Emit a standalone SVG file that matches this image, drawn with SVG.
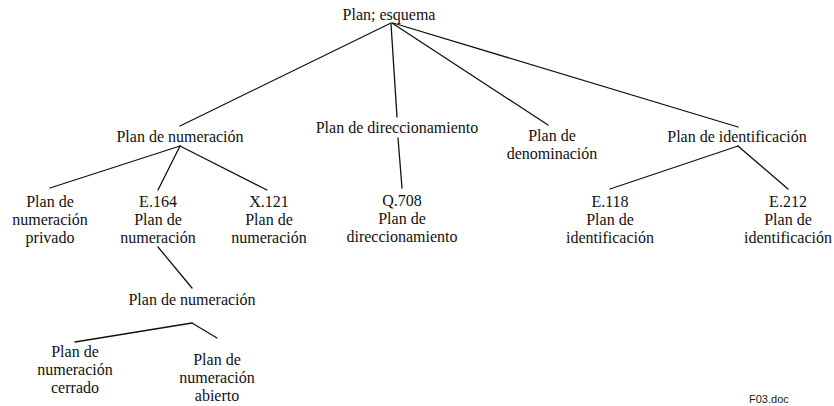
<svg xmlns="http://www.w3.org/2000/svg" width="834" height="406" viewBox="0 0 834 406">
<style>
text{font-family:"Liberation Serif","Times New Roman",serif;font-size:16px;fill:#111;text-anchor:middle}
.lines line{stroke:#111;stroke-width:1.3;fill:none;stroke-linecap:round}
.ref{font-family:"Liberation Sans",Arial,sans-serif;font-size:11px;fill:#222;text-anchor:start}
</style>
<rect width="834" height="406" fill="#fff"/>
<g class="lines" id="connectors">
<line x1="391" y1="23" x2="180" y2="126"/>
<line x1="391" y1="24" x2="397" y2="117"/>
<line x1="392" y1="23" x2="548" y2="125"/>
<line x1="393" y1="23" x2="738" y2="127"/>
<line x1="180" y1="146" x2="50" y2="188"/>
<line x1="180" y1="146" x2="158" y2="190"/>
<line x1="180" y1="146" x2="267" y2="190"/>
<line x1="398" y1="138" x2="402" y2="188"/>
<line x1="738" y1="146" x2="610" y2="189"/>
<line x1="738" y1="146" x2="788" y2="189"/>
<line x1="158" y1="247" x2="192" y2="288"/>
<line x1="192" y1="323" x2="75" y2="342"/>
<line x1="192" y1="323" x2="217" y2="338"/>
</g>
<g id="root"><text x="389" y="20">Plan; esquema</text></g>
<g id="numeracion"><text x="180" y="142">Plan de numeración</text></g>
<g id="direccionamiento"><text x="397" y="133">Plan de direccionamiento</text></g>
<g id="denominacion"><text x="552" y="141">Plan de</text><text x="552" y="159">denominación</text></g>
<g id="identificacion"><text x="737" y="142">Plan de identificación</text></g>
<g id="privado"><text x="50" y="207">Plan de</text><text x="50" y="225">numeración</text><text x="50" y="243">privado</text></g>
<g id="e164"><text x="158" y="207">E.164</text><text x="158" y="225">Plan de</text><text x="158" y="243">numeración</text></g>
<g id="x121"><text x="269" y="207">X.121</text><text x="269" y="225">Plan de</text><text x="269" y="243">numeración</text></g>
<g id="q708"><text x="402" y="206">Q.708</text><text x="402" y="224">Plan de</text><text x="402" y="242">direccionamiento</text></g>
<g id="e118"><text x="610" y="207">E.118</text><text x="610" y="225">Plan de</text><text x="610" y="243">identificación</text></g>
<g id="e212"><text x="788" y="207">E.212</text><text x="788" y="225">Plan de</text><text x="788" y="243">identificación</text></g>
<g id="numeracion2"><text x="192" y="305">Plan de numeración</text></g>
<g id="cerrado"><text x="75" y="357">Plan de</text><text x="75" y="375">numeración</text><text x="75" y="393">cerrado</text></g>
<g id="abierto"><text x="217" y="365">Plan de</text><text x="217" y="383">numeración</text><text x="217" y="401">abierto</text></g>
<text class="ref" x="749" y="403">F03.doc</text>
</svg>
